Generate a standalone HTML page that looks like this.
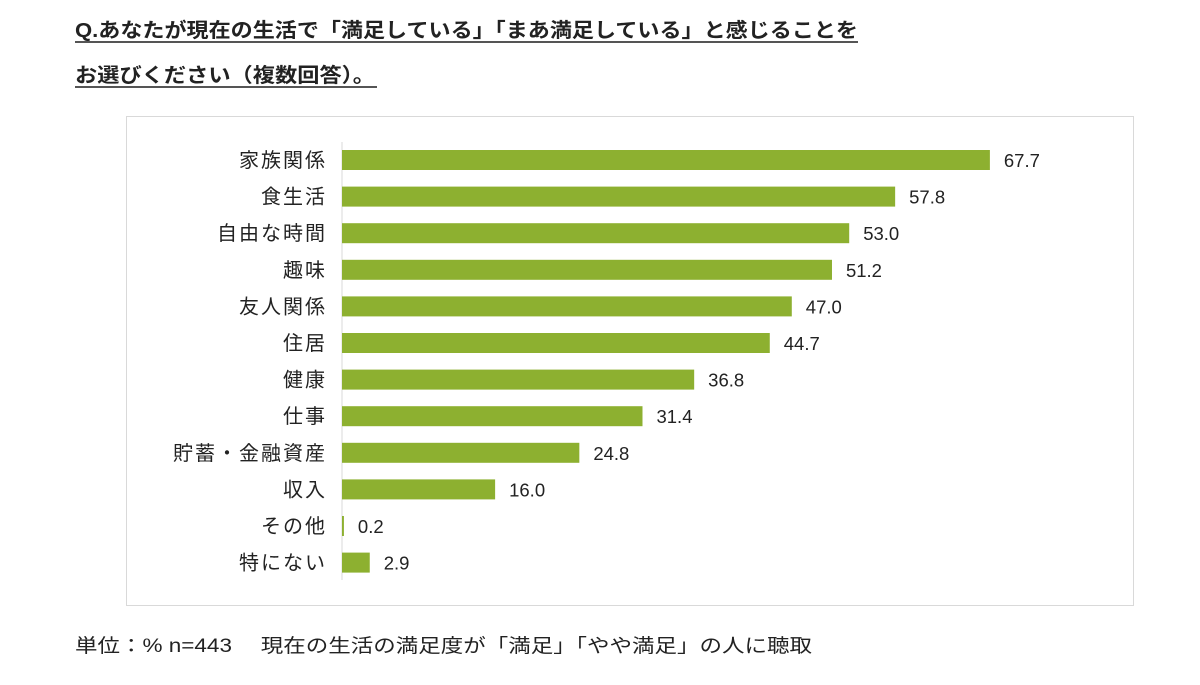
<!DOCTYPE html>
<html><head><meta charset="utf-8"><style>
body{margin:0;background:#fff;}
svg{display:block;font-family:"Liberation Sans","Noto Sans CJK JP",sans-serif;}
</style></head><body>
<svg id="chart" width="1200" height="685">
<text x="75" y="37" font-size="20" font-weight="bold" fill="#222" textLength="783" lengthAdjust="spacingAndGlyphs">Q.あなたが現在の生活で「満足している」「まあ満足している」と感じることを</text>
<line x1="75" y1="42" x2="858" y2="42" stroke="#555" stroke-width="2"/>
<text x="75" y="82" font-size="20" font-weight="bold" fill="#222" textLength="300" lengthAdjust="spacingAndGlyphs">お選びください（複数回答）。</text>
<line x1="75" y1="87" x2="377" y2="87" stroke="#555" stroke-width="2"/>
<rect x="126.5" y="116.5" width="1007" height="489" fill="#fff" stroke="#d9d9d9"/>
<line x1="342" y1="142" x2="342" y2="580" stroke="#d9d9d9"/>
<g id="bars"></g>
<text x="75" y="652" font-size="19" fill="#222" textLength="737" lengthAdjust="spacingAndGlyphs">単位：% n=443　 現在の生活の満足度が「満足」「やや満足」の人に聴取</text>
</svg>
<script>
const categories=["家族関係","食生活","自由な時間","趣味","友人関係","住居","健康","仕事","貯蓄・金融資産","収入","その他","特にない"];
const values=[67.7,57.8,53.0,51.2,47.0,44.7,36.8,31.4,24.8,16.0,0.2,2.9];
const labels=["67.7","57.8","53.0","51.2","47.0","44.7","36.8","31.4","24.8","16.0","0.2","2.9"];
const x0=342,kx=9.57,y0=160,step=36.6,bh=20;
const xs=v=>x0+v*kx, ys=i=>y0+i*step;
const g=document.getElementById('bars'),NS="http://www.w3.org/2000/svg";
categories.forEach((c,i)=>{
  const r=document.createElementNS(NS,'rect');
  r.setAttribute('x',x0);r.setAttribute('y',ys(i)-bh/2);
  r.setAttribute('width',Math.max(xs(values[i])-x0,1.5));r.setAttribute('height',bh);
  r.setAttribute('fill','#8db030');
  
  
  g.appendChild(r);
  const t=document.createElementNS(NS,'text');
  t.setAttribute('x',327);t.setAttribute('y',ys(i)+7);t.setAttribute('text-anchor','end');
  t.setAttribute('font-size','20');t.setAttribute('letter-spacing','2');t.setAttribute('fill','#222');t.textContent=c;
  
  
  g.appendChild(t);
  const v=document.createElementNS(NS,'text');
  v.setAttribute('x',xs(values[i])+14);v.setAttribute('y',ys(i)+7);
  v.setAttribute('font-size','18.5');v.setAttribute('fill','#222');v.textContent=labels[i];
  
  
  g.appendChild(v);
});
</script>
</body></html>
